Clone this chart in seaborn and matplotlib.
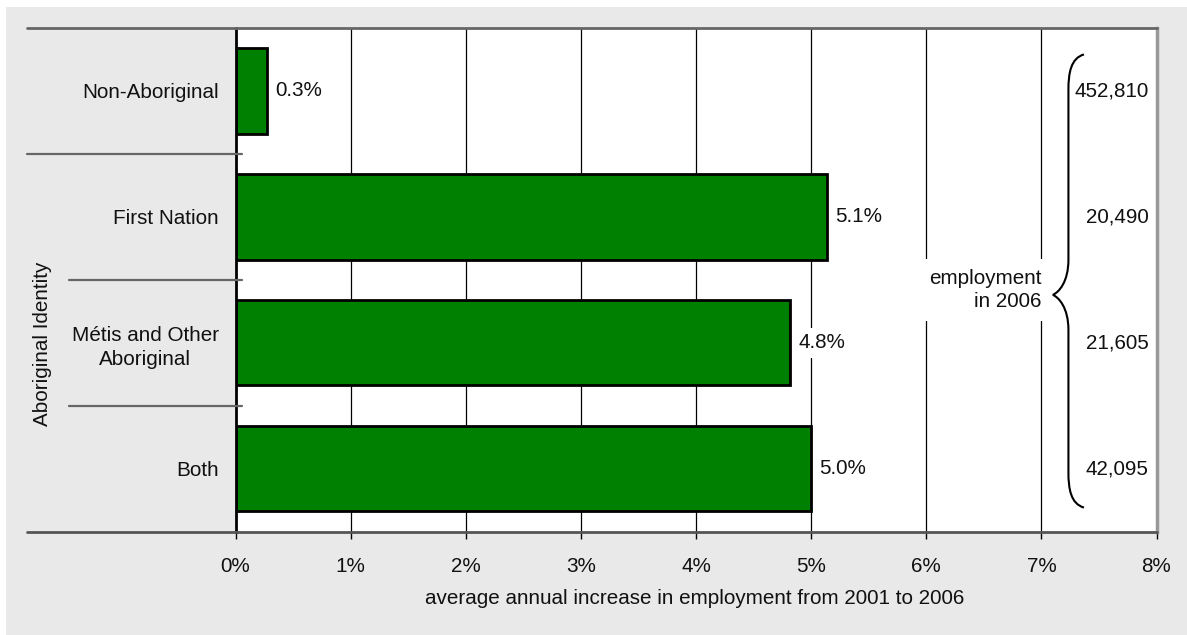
import matplotlib
matplotlib.use("Agg")
import matplotlib.pyplot as plt
import seaborn as sns
import pandas as pd
from matplotlib.path import Path
from matplotlib.patches import PathPatch, Rectangle
from matplotlib.lines import Line2D

categories = ["Non-Aboriginal", "First Nation", "Métis and Other\nAboriginal", "Both"]
increase_pct = [0.27, 5.14, 4.82, 5.00]
employment_2006 = ["452,810", "20,490", "21,605", "42,095"]
x_ticks = [0, 1, 2, 3, 4, 5, 6, 7, 8]
x_tick_labels = ["0%", "1%", "2%", "3%", "4%", "5%", "6%", "7%", "8%"]

sns.set_theme(style="white")
plt.rcParams["font.family"] = ["Liberation Sans", "DejaVu Sans"]
FS = 14.9

W, H = 1187, 635
fig = plt.figure(figsize=(W / 100, H / 100), dpi=100, facecolor="white")
fig.patches.append(Rectangle((6 / W, 0), 1, (H - 7) / H, transform=fig.transFigure,
                             facecolor="#e9e9e9", edgecolor="none", zorder=-10))

L, R, T, B = 235.5, 1156.5, 28, 531.5
ax = fig.add_axes([L / W, 1 - B / H, (R - L) / W, (B - T) / H])
ax.set_facecolor("white")

df = pd.DataFrame({"cat": categories, "val": increase_pct})
sns.barplot(data=df, x="val", y="cat", orient="h", color="#008000", saturation=1,
            edgecolor="black", linewidth=2, width=0.68, ax=ax, zorder=3)

ax.set_xlim(0, 8)
ax.set_ylim(3.5, -0.5)
ax.set_xticks(x_ticks)
ax.set_xticklabels(x_tick_labels, fontsize=FS, color="#111111")
ax.tick_params(axis="x", direction="out", length=5, width=1, color="black", pad=13, bottom=True)
ax.tick_params(axis="y", length=0, pad=12)
for lab in ax.get_yticklabels():
    lab.set_fontsize(FS)
    lab.set_color("#111111")
    lab.set_multialignment("center")
    lab.set_linespacing(1.35)
ax.set_xlabel("")
ax.set_ylabel("")

for x in x_ticks[1:-1]:
    ax.axvline(x, color="black", linewidth=0.9, zorder=1)

for s in ax.spines.values():
    s.set_visible(False)
ax.spines["left"].set_visible(True)
ax.spines["left"].set_color("black")
ax.spines["left"].set_linewidth(2)
ax.spines["left"].set_zorder(5)
ax.spines["right"].set_visible(True)
ax.spines["right"].set_color("#999999")
ax.spines["right"].set_linewidth(2.5)

labels = ax.bar_label(ax.containers[0], labels=[f"{v:.1f}%" for v in increase_pct],
                      padding=6, fontsize=FS, color="#111111")
for t in labels:
    t.set_bbox(dict(facecolor="white", edgecolor="none", pad=4))
    t.set_zorder(2)

# horizontal frame / separator lines
tr = ax.get_yaxis_transform()
def axx(px):
    return (px - L) / (R - L)
ax.add_line(Line2D([axx(27), 1], [-0.5, -0.5], transform=tr, color="#666666", lw=2, clip_on=False, zorder=6))
ax.add_line(Line2D([axx(27), 1], [3.5, 3.5], transform=tr, color="#555555", lw=2, clip_on=False, zorder=6))
for yb, x0 in [(0.5, 27), (1.5, 69), (2.5, 69)]:
    ax.add_line(Line2D([axx(x0), axx(242)], [yb, yb], transform=tr, color="#666666",
                       lw=1.6, clip_on=False, zorder=6))

# employment values
for i, txt in enumerate(employment_2006):
    ax.text(7.93, i, txt, ha="right", va="center", fontsize=FS, color="#111111", zorder=7)

# curly brace
bx, px_, ytop, ybot, ymid, tip = 7.235, 7.10, -0.29, 3.31, 1.62, 7.37
c = 0.28
verts = [(tip, ytop),
         (bx + 0.02, ytop + 0.03), (bx, ytop + 0.15), (bx, ytop + c),
         (bx, ymid - c),
         (bx, ymid - 0.1), (px_ + 0.05, ymid - 0.02), (px_, ymid),
         (px_ + 0.05, ymid + 0.02), (bx, ymid + 0.1), (bx, ymid + c),
         (bx, ybot - c),
         (bx, ybot - 0.15), (bx + 0.02, ybot - 0.03), (tip, ybot)]
codes = [Path.MOVETO, Path.CURVE4, Path.CURVE4, Path.CURVE4, Path.LINETO,
         Path.CURVE4, Path.CURVE4, Path.CURVE4, Path.CURVE4, Path.CURVE4, Path.CURVE4,
         Path.LINETO, Path.CURVE4, Path.CURVE4, Path.CURVE4]
ax.add_patch(PathPatch(Path(verts, codes), facecolor="none", edgecolor="black", lw=1.5, zorder=7))

ax.text(7.0, 1.58, "employment\nin 2006", ha="right", va="center", fontsize=FS,
        color="#111111", multialignment="right", linespacing=1.3,
        bbox=dict(facecolor="white", edgecolor="none", pad=7), zorder=7)

fig.text(43 / W, 1 - 344 / H, "Aboriginal Identity", rotation=90, ha="center", va="center",
         fontsize=FS, color="#111111")
fig.text(695 / W, 1 - 598 / H, "average annual increase in employment from 2001 to 2006",
         ha="center", va="center", fontsize=FS, color="#111111")

fig.savefig("out.png", dpi=100, facecolor="white")
